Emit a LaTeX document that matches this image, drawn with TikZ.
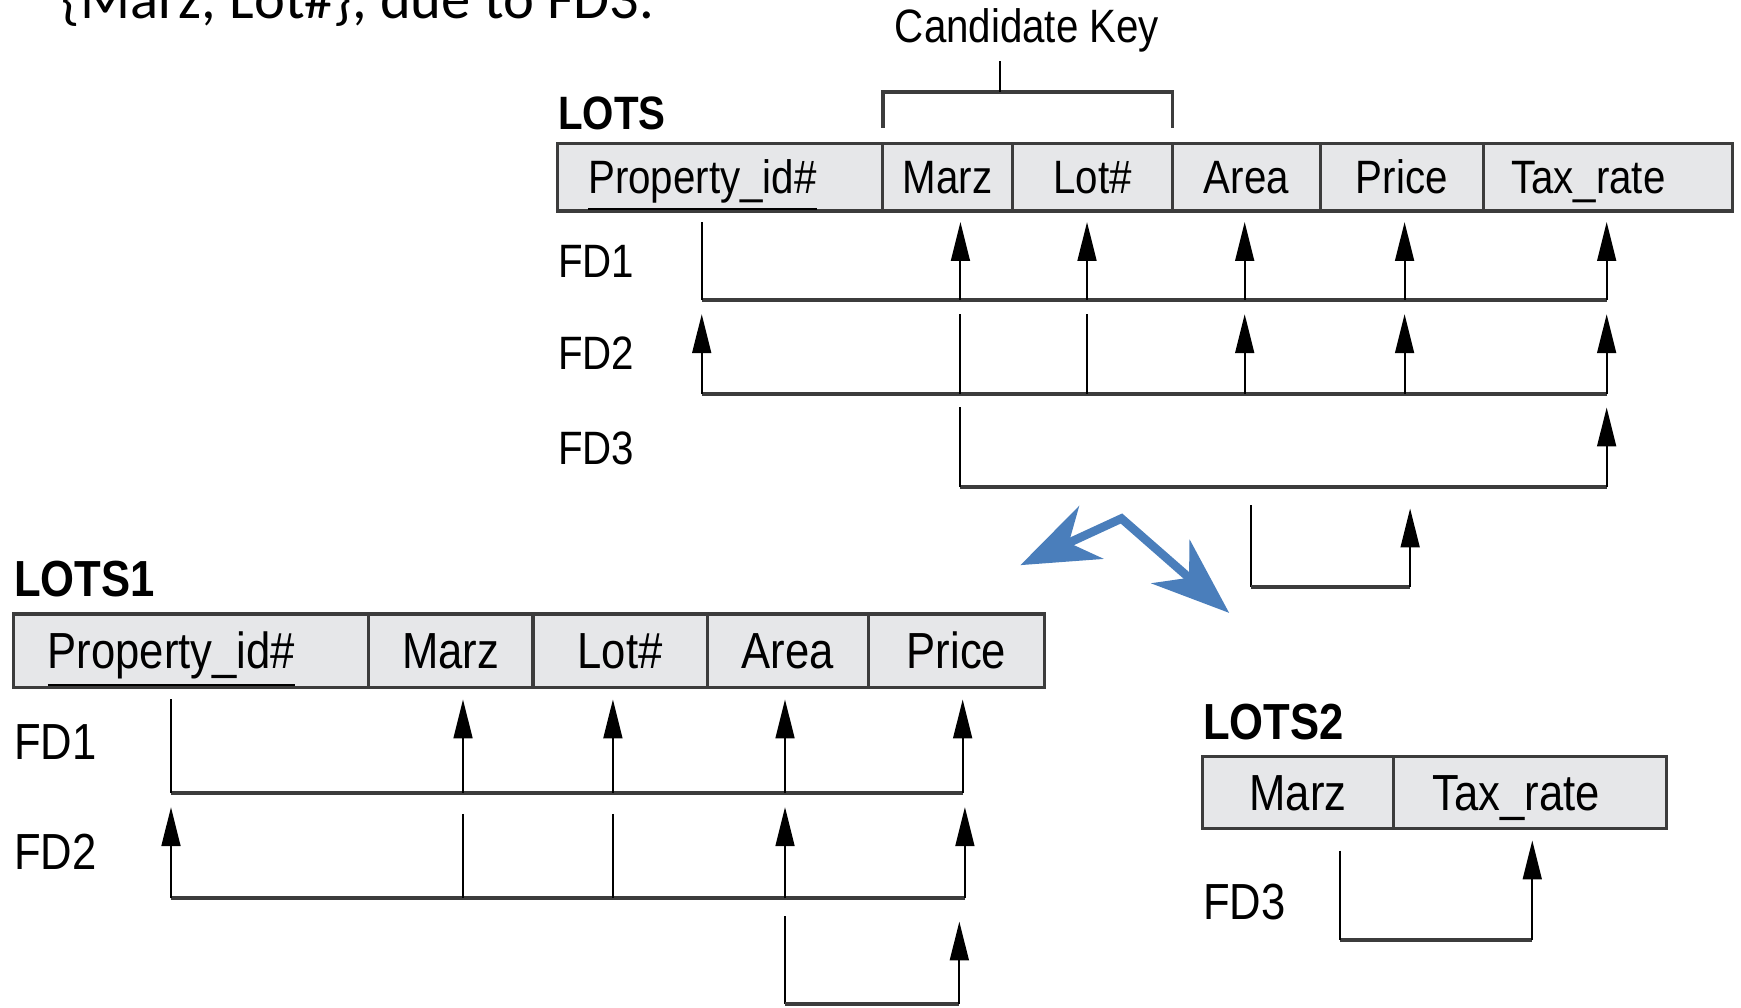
\documentclass[tikz,border=0pt]{standalone}
\usepackage{fontspec}
\setmainfont{Liberation Sans}[FakeStretch=0.86]
\newfontfamily\slidefont{Carlito}
\usetikzlibrary{positioning,arrows.meta}

\definecolor{cellgray}{HTML}{E6E7E9}
\definecolor{linegray}{HTML}{3C3C3C}
\definecolor{slideblue}{HTML}{4A7EBB}

\begin{document}
\begin{tikzpicture}[
    cell/.style={draw=linegray, line width=0.8pt, fill=cellgray, inner sep=0pt, outer sep=0pt},
    relname/.style={anchor=base west, inner sep=0pt},
    fdname/.style={anchor=west, inner sep=0pt},
    fdline/.style={line width=0.5pt},
    fdbar/.style={line width=1pt, linegray},
    fdarrow/.style={line width=0.5pt, -{Triangle[length=3.5mm, width=1.7mm]}}
]
    \useasboundingbox (0,0) rectangle (15.68,9.07);

    % slide text, cut at the top
    \node[anchor=base west, inner sep=0pt, font=\slidefont\fontsize{15}{18}\selectfont] (note) at (0.55,8.90)
        {\{Marz, Lot\#\}, due to FD3.};

    % ---------------- LOTS ----------------
    \begin{scope}[font=\fontsize{12}{14}\selectfont,
                  cell/.append style={minimum height=0.61cm, text height=8.6pt, text depth=0pt}]
        \node[relname] (lots) at (5.02,7.90) {\bfseries LOTS};
        \node[cell, minimum width=2.93cm, anchor=west] (pid) at (5.02,7.475) {\underline{Property\_id\#}\kern9pt};
        \node[cell, minimum width=1.17cm, right=0pt of pid] (marz) {Marz};
        \node[cell, minimum width=1.44cm, right=0pt of marz] (lot) {Lot\#};
        \node[cell, minimum width=1.33cm, right=0pt of lot] (area) {Area};
        \node[cell, minimum width=1.47cm, right=0pt of area] (price) {Price};
        \node[cell, minimum width=2.24cm, right=0pt of price] (tax) {Tax\_rate\kern10pt};

        % candidate key bracket
        \node[anchor=base] (ck) at (9.25,8.69) {Candidate Key};
        \coordinate (ck-stub) at (9.01,8.52);
        \draw[fdbar] ([yshift=1.4mm]marz.north west) -- ++(0,0.32) -| ([yshift=1.4mm]lot.north east);
        \draw[fdline] (ck-stub) -- ++(0,-0.28);

        \node[fdname] (lfd1name) at (5.02,6.72) {FD1};
        \node[fdname] (lfd2name) at (5.02,5.89) {FD2};
        \node[fdname] (lfd3name) at (5.02,5.03) {FD3};
    \end{scope}

    \foreach \n/\dx in {pid/-1.65, marz/1.15, lot/-0.5, area/-0.15, price/0.25, tax/-0.1}
        \coordinate (\n-p) at ([xshift=\dx mm, yshift=-1mm]\n.south);
    \coordinate (lfd1) at (0,6.37);
    \coordinate (lfd2top) at (0,6.24);
    \coordinate (lfd2) at (0,5.52);
    \coordinate (lfd3top) at (0,5.40);
    \coordinate (lfd3) at (0,4.68);

    % FD1
    \draw[fdbar] (pid-p |- lfd1) -- (tax-p |- lfd1);
    \draw[fdline] (pid-p) -- (pid-p |- lfd1);
    \foreach \n in {marz,lot,area,price,tax}
        \draw[fdarrow] (\n-p |- lfd1) -- (\n-p);

    % FD2
    \draw[fdbar] (pid-p |- lfd2) -- (tax-p |- lfd2);
    \foreach \n in {marz,lot}
        \draw[fdline] (\n-p |- lfd2top) -- (\n-p |- lfd2);
    \foreach \n in {pid,area,price,tax}
        \draw[fdarrow] (\n-p |- lfd2) -- (\n-p |- lfd2top);

    % FD3
    \draw[fdbar] (marz-p |- lfd3) -- (tax-p |- lfd3);
    \draw[fdline] (marz-p |- lfd3top) -- (marz-p |- lfd3);
    \draw[fdarrow] (tax-p |- lfd3) -- (tax-p |- lfd3top);

    % leftover FD3 piece
    \coordinate (ofd-a) at (11.27,4.52);
    \coordinate (ofd-b) at (12.70,3.78);
    \coordinate (ofd-c) at (12.70,4.49);
    \draw[fdline] (ofd-a) -- (ofd-a |- ofd-b);
    \draw[fdbar] (ofd-a |- ofd-b) -- (ofd-b);
    \draw[fdarrow] (ofd-b) -- (ofd-c);

    % decomposition arrow
    \coordinate (split-l) at (9.19,3.98);
    \coordinate (split-m) at (10.10,4.40);
    \coordinate (split-r) at (11.07,3.55);
    \draw[slideblue, line width=2.2pt, line join=miter,
          {Stealth[length=7mm, width=5.2mm, inset=2.2mm]}-{Stealth[length=7mm, width=5.2mm, inset=2.2mm]}]
        (split-l) -- (split-m) -- (split-r);

    % ---------------- LOTS1 ----------------
    \begin{scope}[font=\fontsize{13}{15}\selectfont,
                  cell/.append style={minimum height=0.66cm, text height=9.3pt, text depth=0pt}]
        \node[relname] (lots1) at (0.12,3.70) {\bfseries LOTS1};
        \node[cell, minimum width=3.20cm, anchor=west] (pid1) at (0.12,3.21) {\underline{Property\_id\#}\kern10pt};
        \node[cell, minimum width=1.48cm, right=0pt of pid1] (marz1) {Marz};
        \node[cell, minimum width=1.57cm, right=0pt of marz1] (lot1) {Lot\#};
        \node[cell, minimum width=1.45cm, right=0pt of lot1] (area1) {Area};
        \node[cell, minimum width=1.59cm, right=0pt of area1] (price1) {Price};

        \node[fdname] (fd1name) at (0.12,2.39) {FD1};
        \node[fdname] (fd2name) at (0.12,1.40) {FD2};
    \end{scope}

    \foreach \n/\dx in {pid1/-1.8, marz1/1.1, lot1/-0.65, area1/-0.25, price1/0.55}
        \coordinate (\n-p) at ([xshift=\dx mm, yshift=-1.1mm]\n.south);
    \coordinate (fd1) at (0,1.93);
    \coordinate (fd2top) at (0,1.80);
    \coordinate (fd2keytop) at (0,1.74);
    \coordinate (fd2) at (0,0.98);

    % FD1
    \draw[fdbar] (pid1-p |- fd1) -- (price1-p |- fd1);
    \draw[fdline] (pid1-p) -- (pid1-p |- fd1);
    \foreach \n in {marz1,lot1,area1,price1}
        \draw[fdarrow] (\n-p |- fd1) -- (\n-p);

    % FD2
    \draw[fdbar] (pid1-p |- fd2) -- ([xshift=0.2mm]price1-p |- fd2);
    \foreach \n in {marz1,lot1}
        \draw[fdline] (\n-p |- fd2keytop) -- (\n-p |- fd2);
    \foreach \n in {pid1,area1}
        \draw[fdarrow] (\n-p |- fd2) -- (\n-p |- fd2top);
    \draw[fdarrow] ([xshift=0.2mm]price1-p |- fd2) -- ([xshift=0.2mm]price1-p |- fd2top);

    % leftover piece at the bottom
    \coordinate (bfd-a) at (7.07,0.82);
    \coordinate (bfd-b) at (8.64,0.03);
    \coordinate (bfd-c) at (8.64,0.77);
    \draw[fdline] (bfd-a) -- (bfd-a |- bfd-b);
    \draw[fdbar] (bfd-a |- bfd-b) -- (bfd-b);
    \draw[fdarrow] (bfd-b) -- (bfd-c);

    % ---------------- LOTS2 ----------------
    \begin{scope}[font=\fontsize{13}{15}\selectfont,
                  cell/.append style={minimum height=0.65cm, text height=9.3pt, text depth=0pt}]
        \node[relname] (lots2) at (10.83,2.41) {\bfseries LOTS2};
        \node[cell, minimum width=1.72cm, anchor=west] (marz2) at (10.83,1.935) {Marz};
        \node[cell, minimum width=2.46cm, right=0pt of marz2] (tax2) {Tax\_rate\kern7pt};

        \node[fdname] (fd3name) at (10.83,0.95) {FD3};
    \end{scope}

    \coordinate (marz2-p) at ([xshift=3.8mm, yshift=-2mm]marz2.south);
    \coordinate (tax2-p) at ([xshift=0.2mm, yshift=-1.1mm]tax2.south);
    \coordinate (fd3) at (0,0.60);

    % FD3
    \draw[fdbar] (marz2-p |- fd3) -- (tax2-p |- fd3);
    \draw[fdline] (marz2-p) -- (marz2-p |- fd3);
    \draw[fdarrow] (tax2-p |- fd3) -- (tax2-p);
\end{tikzpicture}
\end{document}
